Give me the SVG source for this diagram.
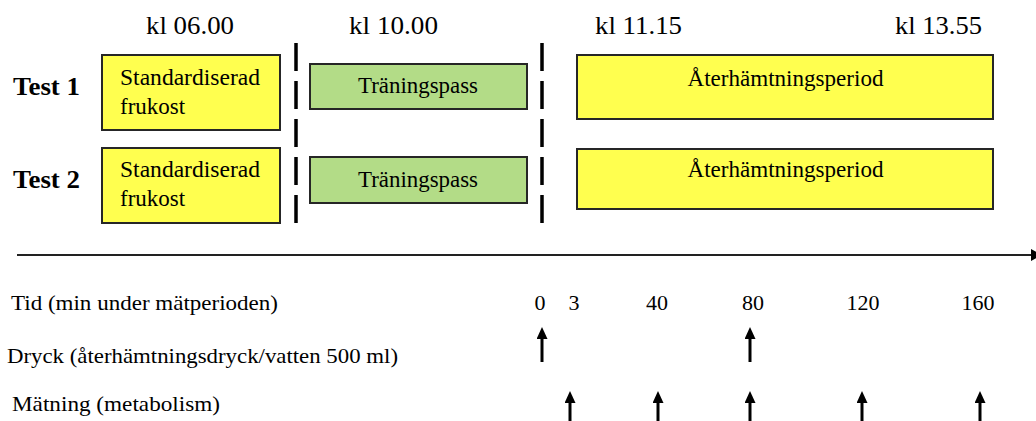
<svg xmlns="http://www.w3.org/2000/svg" width="1036" height="421" viewBox="0 0 1036 421">
  <defs>
    <style>
      text { font-family: "Liberation Serif", "Times New Roman", serif; fill: #000; }
      .clock { font-size: 26px; }
      .test { font-size: 25px; font-weight: bold; }
      .lbl { font-size: 23px; }
      .row { font-size: 22px; }
      .yellow { fill: #ffff4f; stroke: #262626; stroke-width: 2; }
      .green { fill: #b3dc87; stroke: #262626; stroke-width: 2; }
      .divider { stroke: #000; stroke-width: 3.5; stroke-dasharray: 28 10; fill: none; }
      .axis { stroke: #222; stroke-width: 2; fill: none; }
      .tick { stroke: #000; stroke-width: 3; fill: none; }
    </style>
    <!-- upward arrowhead, base sits on the line end -->
    <marker id="head" markerWidth="12" markerHeight="11" viewBox="0 0 12 11" refX="0" refY="5.5" orient="auto" markerUnits="userSpaceOnUse">
      <path d="M0,0 L12,5.5 L0,11 Z" fill="#000"/>
    </marker>
    <marker id="axisHead" markerWidth="11" markerHeight="12" viewBox="0 0 11 12" refX="11" refY="6" orient="auto" markerUnits="userSpaceOnUse">
      <path d="M0,0 L11,6 L0,12 Z" fill="#000"/>
    </marker>
  </defs>

  <!-- clock times -->
  <g id="clock-times">
    <text class="clock" x="146" y="34" textLength="88" lengthAdjust="spacingAndGlyphs">kl 06.00</text>
    <text class="clock" x="349" y="34" textLength="89" lengthAdjust="spacingAndGlyphs">kl 10.00</text>
    <text class="clock" x="595" y="34" textLength="87" lengthAdjust="spacingAndGlyphs">kl 11.15</text>
    <text class="clock" x="895" y="34" textLength="87" lengthAdjust="spacingAndGlyphs">kl 13.55</text>
  </g>

  <!-- row labels -->
  <g id="test1-label"><text class="test" x="13" y="95" textLength="67" lengthAdjust="spacingAndGlyphs">Test 1</text></g>
  <g id="test2-label"><text class="test" x="13" y="188" textLength="67" lengthAdjust="spacingAndGlyphs">Test 2</text></g>

  <!-- Test 1 -->
  <g id="t1-frukost">
    <rect class="yellow" x="102" y="55" width="178" height="75"/>
    <text class="lbl" x="120" y="85" textLength="140" lengthAdjust="spacingAndGlyphs">Standardiserad</text>
    <text class="lbl" x="120" y="114">frukost</text>
  </g>
  <g id="t1-traning">
    <rect class="green" x="310" y="64" width="217" height="45"/>
    <text class="lbl" x="418" y="93" text-anchor="middle" textLength="120" lengthAdjust="spacingAndGlyphs">Träningspass</text>
  </g>
  <g id="t1-aterhamtning">
    <rect class="yellow" x="577" y="55" width="416" height="64"/>
    <text class="lbl" x="785.5" y="86" text-anchor="middle" textLength="196" lengthAdjust="spacingAndGlyphs">Återhämtningsperiod</text>
  </g>

  <!-- Test 2 -->
  <g id="t2-frukost">
    <rect class="yellow" x="102" y="148" width="178" height="75"/>
    <text class="lbl" x="120" y="177" textLength="140" lengthAdjust="spacingAndGlyphs">Standardiserad</text>
    <text class="lbl" x="120" y="206">frukost</text>
  </g>
  <g id="t2-traning">
    <rect class="green" x="310" y="157" width="217" height="46"/>
    <text class="lbl" x="418" y="187" text-anchor="middle" textLength="120" lengthAdjust="spacingAndGlyphs">Träningspass</text>
  </g>
  <g id="t2-aterhamtning">
    <rect class="yellow" x="577" y="149" width="416" height="60"/>
    <text class="lbl" x="785.5" y="177" text-anchor="middle" textLength="196" lengthAdjust="spacingAndGlyphs">Återhämtningsperiod</text>
  </g>

  <!-- phase dividers, time axis and event arrows -->
  <g id="connectors">
    <line class="divider" x1="296" y1="43" x2="296" y2="223"/>
    <line class="divider" x1="542" y1="43" x2="542" y2="223"/>
    <line class="axis" x1="17" y1="255" x2="1042" y2="255" marker-end="url(#axisHead)"/>
    <!-- drink -->
    <line class="tick" x1="542" y1="362" x2="542" y2="339" marker-end="url(#head)"/>
    <line class="tick" x1="750" y1="362" x2="750" y2="339" marker-end="url(#head)"/>
    <!-- measurement -->
    <line class="tick" x1="570" y1="425" x2="570" y2="403" marker-end="url(#head)"/>
    <line class="tick" x1="658" y1="425" x2="658" y2="403" marker-end="url(#head)"/>
    <line class="tick" x1="750" y1="425" x2="750" y2="403" marker-end="url(#head)"/>
    <line class="tick" x1="862" y1="425" x2="862" y2="403" marker-end="url(#head)"/>
    <line class="tick" x1="980" y1="425" x2="980" y2="403" marker-end="url(#head)"/>
  </g>

  <!-- timeline rows -->
  <g id="row-labels">
    <text class="row" x="11" y="310" textLength="267" lengthAdjust="spacingAndGlyphs">Tid (min under mätperioden)</text>
    <text class="row" x="7" y="363" textLength="391" lengthAdjust="spacingAndGlyphs">Dryck (återhämtningsdryck/vatten 500 ml)</text>
    <text class="row" x="12" y="411" textLength="208" lengthAdjust="spacingAndGlyphs">Mätning (metabolism)</text>
  </g>
  <g id="minutes">
    <text class="row" x="540" y="310" text-anchor="middle">0</text>
    <text class="row" x="574" y="310" text-anchor="middle">3</text>
    <text class="row" x="657" y="310" text-anchor="middle">40</text>
    <text class="row" x="753" y="310" text-anchor="middle">80</text>
    <text class="row" x="863" y="310" text-anchor="middle">120</text>
    <text class="row" x="978" y="310" text-anchor="middle">160</text>
  </g>
</svg>
